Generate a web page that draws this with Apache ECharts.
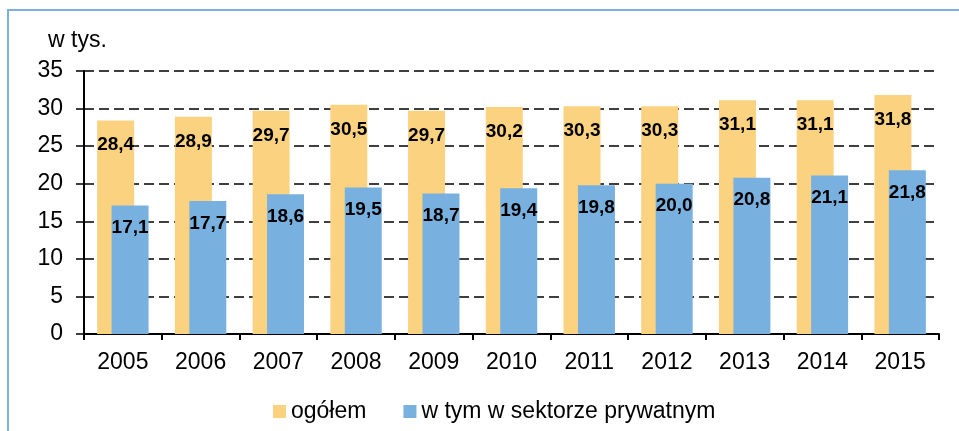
<!DOCTYPE html>
<html>
<head>
<meta charset="utf-8">
<script src="https://cdn.jsdelivr.net/npm/echarts@6/dist/echarts.min.js"></script>
<style>
  html, body { margin: 0; padding: 0; background: #fff; }
  #chart { width: 959px; height: 431px; }
</style>
</head>
<body>
<div id="chart"></div>
<script>
// dane z wykresu
const years = ['2005', '2006', '2007', '2008', '2009', '2010', '2011', '2012', '2013', '2014', '2015']
const ogolem = [28.4, 28.9, 29.7, 30.5, 29.7, 30.2, 30.3, 30.3, 31.1, 31.1, 31.8]
const prywatny = [17.1, 17.7, 18.6, 19.5, 18.7, 19.4, 19.8, 20.0, 20.8, 21.1, 21.8]

const fmt = p => p.value.toFixed(1).replace('.', ',')
const font = 'Liberation Sans, Arial, sans-serif'

const chart = echarts.init(document.getElementById('chart'))

const option = {
    animation: false,
    textStyle: { fontFamily: font },
    graphic: [{
        type: 'polyline',
        shape: { points: [[8, 431], [8, 10], [959, 10]] },
        style: { stroke: '#7DB0DE', lineWidth: 2, fill: null }
    }, {
        type: 'text',
        left: 48,
        top: 29,
        style: { text: 'w tys.', fontSize: 23, fontFamily: font, fill: '#000' }
    }],
    legend: {
        left: 268,
        top: 395,
        itemWidth: 13,
        itemHeight: 13,
        itemGap: 37,
        icon: 'rect',
        textStyle: { fontSize: 23, color: '#000', fontFamily: font },
        data: ['ogółem', 'w tym w sektorze prywatnym']
    },
    grid: { left: 84, top: 71, right: 20, bottom: 97 },
    xAxis: {
        type: 'category',
        data: years,
        axisLine: { lineStyle: { color: '#000', width: 2 } },
        axisTick: { show: true, length: 6, lineStyle: { color: '#000', width: 2 } },
        axisLabel: { fontSize: 23, color: '#000', margin: 17 }
    },
    yAxis: {
        type: 'value',
        min: 0,
        max: 35,
        interval: 5,
        axisLine: { show: true, lineStyle: { color: '#000', width: 2 } },
        axisTick: { show: true, length: 8, lineStyle: { color: '#000', width: 1.5 } },
        axisLabel: { fontSize: 23, color: '#000', margin: 21 },
        splitLine: { lineStyle: { color: '#000', width: 1.5, type: [10, 5] } }
    },
    series: [{
        name: 'ogółem',
        type: 'bar',
        data: ogolem,
        barWidth: 37,
        barGap: '-61%',
        itemStyle: { color: '#FBD280' },
        label: {
            show: true,
            position: 'insideTop',
            distance: 15,
            formatter: fmt,
            color: '#000',
            fontWeight: 'bold',
            fontSize: 19,
            fontFamily: font
        }
    }, {
        name: 'w tym w sektorze prywatnym',
        type: 'bar',
        data: prywatny,
        barWidth: 37,
        itemStyle: { color: '#78B1E0' },
        label: {
            show: true,
            position: 'insideTop',
            distance: 13,
            formatter: fmt,
            color: '#000',
            fontWeight: 'bold',
            fontSize: 19,
            fontFamily: font
        }
    }]
}

chart.setOption(option)
</script>
</body>
</html>
